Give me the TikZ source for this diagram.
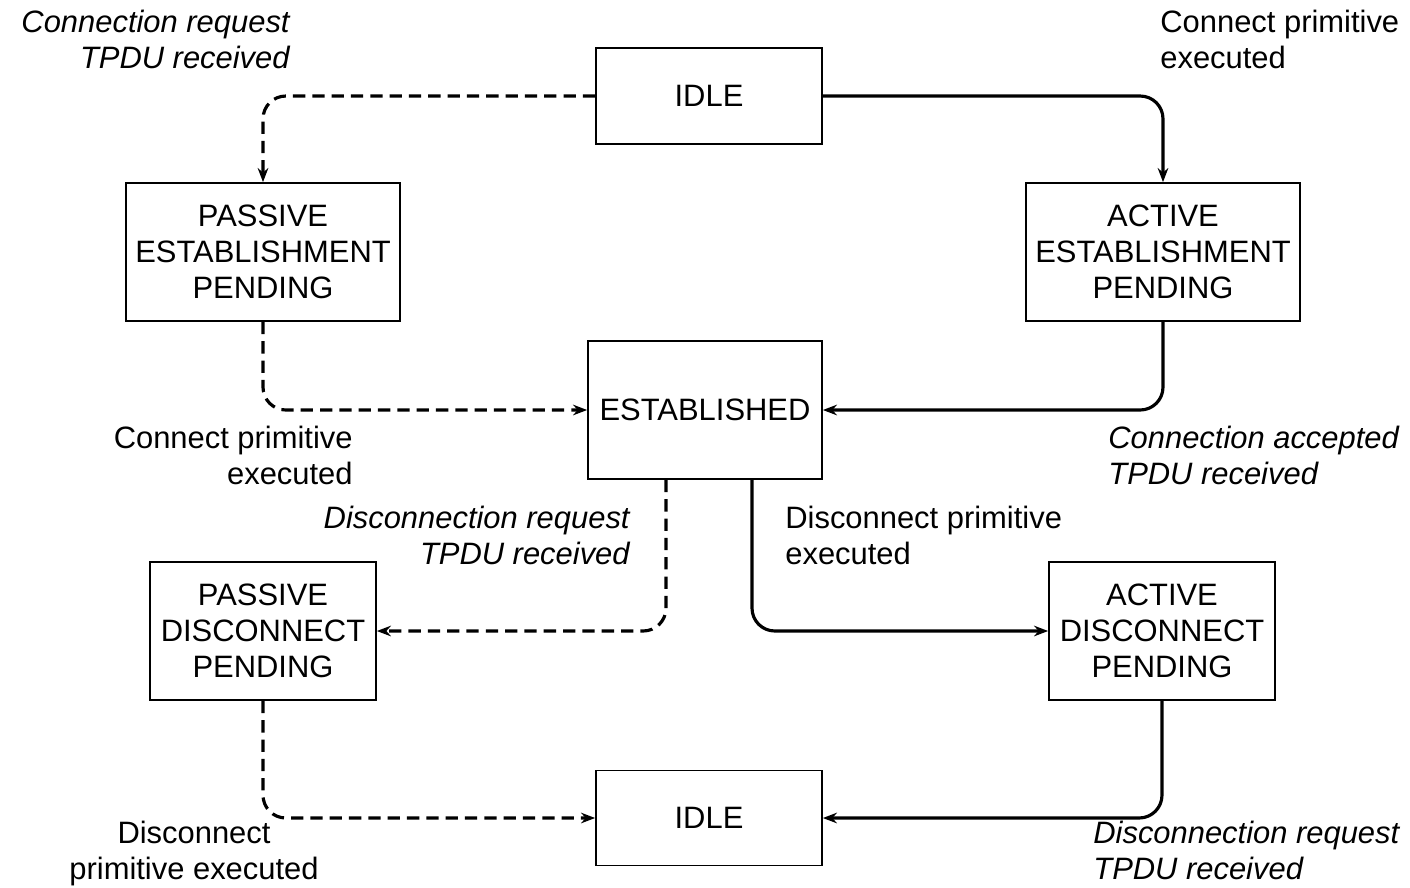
\documentclass[tikz,border=0pt]{standalone}
\usepackage{fontspec}
\setmainfont{Liberation Sans}
\usetikzlibrary{arrows.meta,calc}
\begin{document}
\begin{tikzpicture}
[x=0.02cm,y=-0.02cm,
  font=\fontsize{17.6}{20.5}\selectfont,
  statedecorate/.style={shape=rectangle,draw,line width=1pt,align=center,inner sep=0pt,minimum width=4.52cm,minimum height=2.76cm},
  solidedge/.style={line width=1.8pt,rounded corners=13pt,-{Stealth[length=8pt,width=6pt]}},
  dashededge/.style={solidedge,dash pattern=on 7pt off 4pt},
  labeldecorate/.style={inner sep=0pt}]
\useasboundingbox (0,0) rectangle (1410,887);
% states
\node (idle1) at (709,96) [statedecorate,minimum height=1.92cm] {IDLE};
\node (pasest) at (263,252) [statedecorate,minimum width=5.48cm] {PASSIVE\\ESTABLISHMENT\\PENDING};
\node (actest) at (1163,252) [statedecorate,minimum width=5.48cm] {ACTIVE\\ESTABLISHMENT\\PENDING};
\node (est) at (705,410) [statedecorate,minimum width=4.68cm] {ESTABLISHED};
\node (pasdis) at (263,631) [statedecorate] {PASSIVE\\DISCONNECT\\PENDING};
\node (actdis) at (1162,631) [statedecorate] {ACTIVE\\DISCONNECT\\PENDING};
\node (idle2) at (709,818) [statedecorate,minimum height=1.9cm] {IDLE};
% transitions
\draw[dashededge] (idle1.west) -| (pasest.north);
\draw[solidedge] (idle1.east) -| (actest.north);
\draw[dashededge] (pasest.south) |- (est.west);
\draw[solidedge] (actest.south) |- (est.east);
\draw[dashededge] ($(est.south)+(-39,0)$) |- (pasdis.east);
\draw[solidedge] ($(est.south)+(47,0)$) |- (actdis.west);
\draw[dashededge] (pasdis.south) |- (idle2.west);
\draw[solidedge] (actdis.south) |- (idle2.east);
% labels
\node (l1) at (290,10) [labeldecorate,anchor=north east,align=right] {\itshape Connection request\\\itshape TPDU received};
\node (l2) at (1160,10) [labeldecorate,anchor=north west,align=left] {Connect primitive\\executed};
\node (l3) at (353,426) [labeldecorate,anchor=north east,align=right] {Connect primitive\\executed};
\node (l4) at (1108,426) [labeldecorate,anchor=north west,align=left] {\itshape Connection accepted\\\itshape TPDU received};
\node (l5) at (630,506) [labeldecorate,anchor=north east,align=right] {\itshape Disconnection request\\\itshape TPDU received};
\node (l6) at (785,506) [labeldecorate,anchor=north west,align=left] {Disconnect primitive\\executed};
\node (l7) at (194,821) [labeldecorate,anchor=north,align=center] {Disconnect\\primitive executed};
\node (l8) at (1093,821) [labeldecorate,anchor=north west,align=left] {\itshape Disconnection request\\\itshape TPDU received};
\end{tikzpicture}
\end{document}
